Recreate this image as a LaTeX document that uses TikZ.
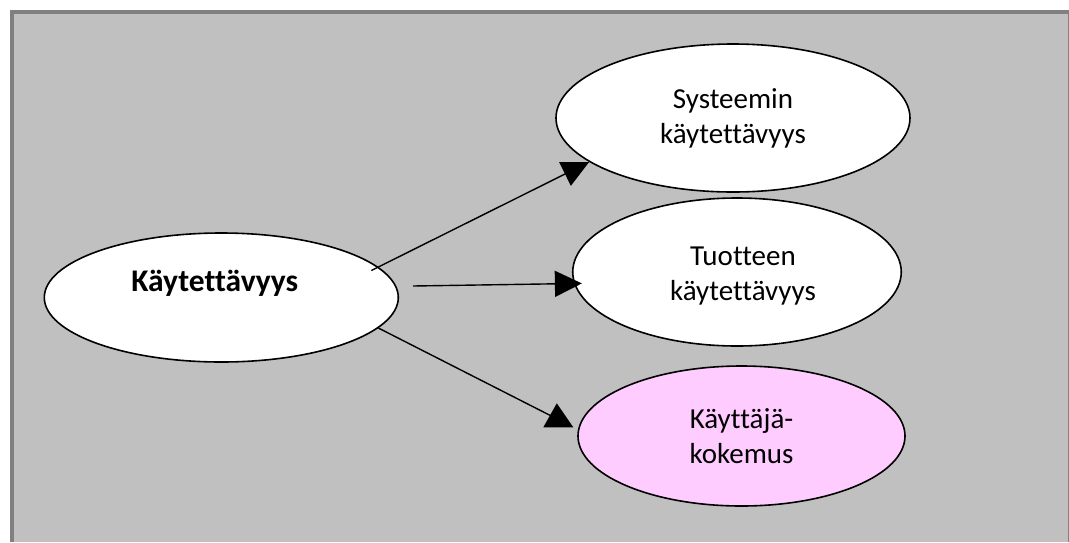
\documentclass[tikz,border=0pt]{standalone}
\usepackage{fontspec}
\setmainfont{Carlito}[Ligatures=NoCommon]
\usetikzlibrary{shapes.geometric,arrows.meta,calc}
\definecolor{panelgray}{HTML}{C0C0C0}
\definecolor{framegray}{HTML}{808080}
\definecolor{softpink}{HTML}{FFCCFF}
\begin{document}
\begin{tikzpicture}[x=1pt,y=-1pt,
  blob/.style={ellipse, draw=black, line width=1.6pt, fill=white, inner sep=0pt,
    align=center, font=\fontsize{29}{35}\selectfont},
  link/.style={line width=1.4pt, -{Triangle[length=27pt,width=26pt]}},
  plain link/.style={line width=1.4pt},
]
\useasboundingbox (0,0) rectangle (1069,542);
% page, frame and grey panel
\fill[white] (0,0) rectangle (1069,542);
\fill[framegray] (10,10) rectangle (1069,542);
\fill[panelgray] (14,14) rectangle (1068,542);

% concept ellipses
\node[blob, minimum width=354pt, minimum height=129pt, text height=20pt, text depth=33pt,
  font=\fontsize{31.5}{38}\selectfont\bfseries] (use) at (221.3,297.5) {Käytettävyys\hspace*{13pt}};
\node[blob, minimum width=354pt, minimum height=148pt] (sys) at (733,118) {Systeemin\\käytettävyys};
\node[blob, minimum width=328.5pt, minimum height=148pt] (prod) at (737,272)
  {\hspace*{12pt}\rule{0pt}{27pt}Tuotteen\\\hspace*{12pt}käytettävyys};
\node[blob, fill=softpink, minimum width=327pt, minimum height=140pt] (ux) at (741.5,436) {Käyttäjä-\\kokemus};

% connectors
\draw[link, shorten <=-8pt] (use.11) -- (sys.197);
\draw[link] ([shift={(14,-11.5)}]use.east) -- ([xshift=8pt]prod.184);
\coordinate (uxin) at ($(ux.center)+(-183.7,-16.7)$);
\draw[plain link] (use.-11) -- (uxin);
\fill ([shift={(-1,-16)}]uxin) -- ([shift={(-14.5,8)}]uxin) -- ([shift={(15.5,8)}]uxin) -- cycle;
\end{tikzpicture}
\end{document}
